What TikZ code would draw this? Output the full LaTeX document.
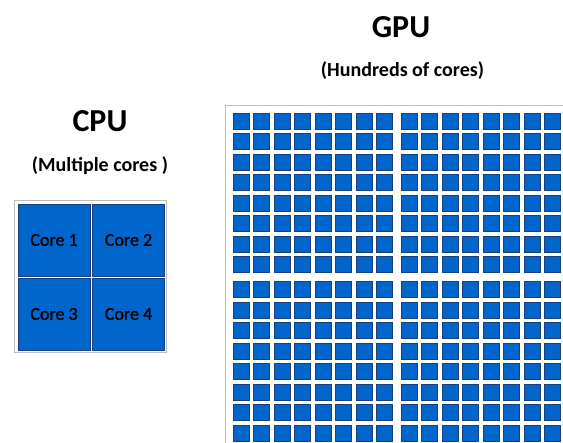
\documentclass[tikz,border=0pt]{standalone}
\usepackage{fontspec}
\setmainfont{Carlito}
\newfontfamily\labelfont[FakeBold=1.2]{Carlito}
\definecolor{coreblue}{HTML}{0066CC}
\definecolor{coreedge}{HTML}{1B3F78}
\definecolor{framegray}{HTML}{BDBDBD}
\begin{document}
\begin{tikzpicture}[x=1pt,y=-1pt,
  core/.style={draw=coreedge, fill=coreblue, line width=0.6pt, minimum size=72pt,
    inner sep=0pt, text=black, font=\labelfont\fontsize{18}{18}\selectfont},
  alu/.style={draw=coreedge, fill=coreblue, line width=0.8pt, minimum size=16pt, inner sep=0pt},
  heading/.style={font=\fontsize{32}{32}\selectfont\bfseries},
  subheading/.style={font=\fontsize{20}{20}\selectfont\bfseries}]
\useasboundingbox (0,0) rectangle (563,443);
\clip (0,0) rectangle (563,443);

% CPU side
\node[heading] (cpu) at (100,121) {CPU};
\node[subheading] (cpusub) at (100,166) {(Multiple cores )};
\draw[framegray, fill=white, line width=1.2pt] (14.5,200.5) rectangle (166.5,352.5);
\node[core] (c1) at (54,240) {Core 1};
\node[core] (c2) at (128.5,240) {Core 2};
\node[core] (c3) at (54,314) {Core 3};
\node[core] (c4) at (128.5,314) {Core 4};

% GPU side
\node[heading] (gpu) at (401,27) {GPU};
\node[subheading] (gpusub) at (402.5,71) {(Hundreds of cores)};
\draw[framegray, line width=1.4pt] (225.5,105.5) rectangle (600,600);
\foreach \i in {0,...,15} {
  \foreach \j in {0,...,15} {
    \pgfmathsetmacro\xx{241+20.5*\i+(\i>7)*4}
    \pgfmathsetmacro\yy{121+20.5*\j+(\j>7)*4.5}
    \node[alu] (g-\i-\j) at (\xx,\yy) {};
  }
}
\end{tikzpicture}
\end{document}
